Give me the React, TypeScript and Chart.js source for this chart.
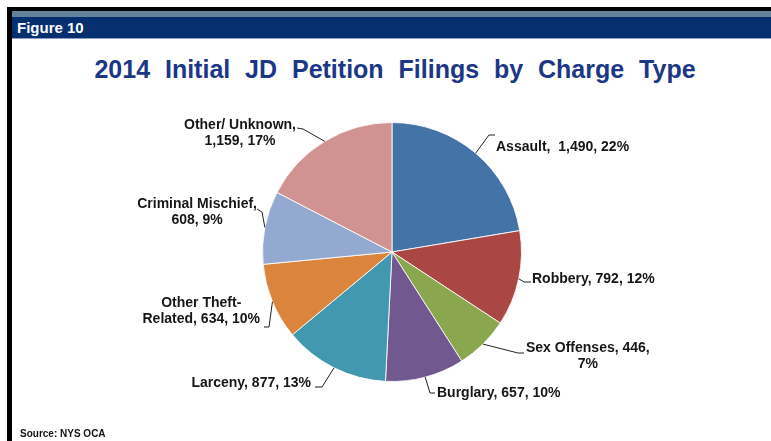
import React, { useEffect, useRef } from "react";
import { Chart, registerables } from "chart.js";

Chart.register(...registerables);

// ---- data ----
const categories = [
  "Assault",
  "Robbery",
  "Sex Offenses",
  "Burglary",
  "Larceny",
  "Other Theft-Related",
  "Criminal Mischief",
  "Other/ Unknown",
];
const filings = [1490, 792, 446, 657, 877, 634, 608, 1159];
const sliceColors = [
  "#4473A8",
  "#AA4643",
  "#8AA64F",
  "#71588F",
  "#4198AF",
  "#DB843D",
  "#93A9CF",
  "#D09392",
];
const chartTitle = "2014  Initial  JD  Petition  Filings  by  Charge  Type";
const figureLabel = "Figure 10";
const sourceNote = "Source: NYS OCA";

// ---- label layout (relative to pie centre) ----
type LabelLayout = {
  anchor: "left" | "right";
  tx: number; // text block edge x
  ty: number; // first line centre y
  elbow: [number, number];
  end: [number, number];
  brk?: [string, number]; // break after nth occurrence of char
  sep?: string;
};
const labelLayouts: LabelLayout[] = [
  { anchor: "left", tx: 104, ty: -105, elbow: [97, -117], end: [103, -117], sep: ",  " },
  { anchor: "left", tx: 140, ty: 27, elbow: [132, 30], end: [139, 30] },
  { anchor: "left", tx: 134, ty: 96, elbow: [126, 101], end: [132, 101], brk: [",", 2] },
  { anchor: "left", tx: 45, ty: 141, elbow: [38, 141], end: [43, 141] },
  { anchor: "right", tx: -81, ty: 131, elbow: [-70, 135], end: [-77, 135] },
  { anchor: "right", tx: -132, ty: 51, elbow: [-123, 75], end: [-128, 75], brk: ["-", 1] },
  { anchor: "right", tx: -135, ty: -48, elbow: [-130, -40], end: [-135, -43], brk: [",", 1] },
  { anchor: "right", tx: -96, ty: -127, elbow: [-89, -123], end: [-95, -124], brk: [",", 1] },
];
const lineHeight = 16.5;
const labelFont = 'bold 14px "Liberation Sans", Arial, sans-serif';

const total = filings.reduce((a, b) => a + b, 0);

function buildLines(i: number): string[] {
  const lay = labelLayouts[i];
  const pct = Math.round((filings[i] / total) * 100);
  const full = `${categories[i]}${lay.sep ?? ", "}${filings[i].toLocaleString("en-US")}, ${pct}%`;
  if (!lay.brk) return [full];
  const [ch, occ] = lay.brk;
  let idx = -1;
  for (let k = 0; k < occ; k++) idx = full.indexOf(ch, idx + 1);
  return [full.slice(0, idx + 1), full.slice(idx + 1).trim()];
}

const labelPlugin = {
  id: "pieLabels",
  afterDatasetsDraw(chart: any) {
    const ctx = chart.ctx as CanvasRenderingContext2D;
    const meta = chart.getDatasetMeta(0);
    ctx.save();
    ctx.font = labelFont;
    ctx.textBaseline = "middle";
    meta.data.forEach((arc: any, i: number) => {
      const p = arc.getProps(["x", "y", "startAngle", "endAngle", "outerRadius"], true);
      const lay = labelLayouts[i];
      const mid = (p.startAngle + p.endAngle) / 2;
      const sx = p.x + Math.cos(mid) * p.outerRadius;
      const sy = p.y + Math.sin(mid) * p.outerRadius;
      ctx.strokeStyle = "#222";
      ctx.lineWidth = 1;
      ctx.beginPath();
      ctx.moveTo(sx, sy);
      ctx.lineTo(p.x + lay.elbow[0], p.y + lay.elbow[1]);
      ctx.lineTo(p.x + lay.end[0], p.y + lay.end[1]);
      ctx.stroke();

      const lines = buildLines(i);
      const widths = lines.map((l) => ctx.measureText(l).width);
      const blockW = Math.max(...widths);
      const left = lay.anchor === "left" ? p.x + lay.tx : p.x + lay.tx - blockW;
      ctx.fillStyle = "#161616";
      ctx.textAlign = "center";
      lines.forEach((l, k) => {
        ctx.fillText(l, left + blockW / 2, p.y + lay.ty + k * lineHeight);
      });
    });
    ctx.restore();
  },
};

export default function App() {
  const canvasRef = useRef<HTMLCanvasElement | null>(null);

  useEffect(() => {
    if (!canvasRef.current) return;
    const chart = new Chart(canvasRef.current, {
      type: "pie",
      data: {
        labels: categories,
        datasets: [
          {
            data: filings,
            backgroundColor: sliceColors,
            borderColor: "rgba(255,255,255,0.85)",
            borderWidth: 1,
          },
        ],
      },
      options: {
        responsive: false,
        maintainAspectRatio: false,
        animation: false,
        layout: { padding: { left: 262, right: 249, top: 122, bottom: 59 } },
        plugins: {
          legend: { display: false },
          tooltip: { enabled: false },
        },
      },
      plugins: [labelPlugin],
    });
    return () => chart.destroy();
  }, []);

  const abs = (s: React.CSSProperties): React.CSSProperties => ({ position: "absolute", ...s });

  return (
    <div
      style={{
        position: "absolute",
        left: 0,
        top: 0,
        width: 771,
        height: 441,
        background: "#fff",
        overflow: "hidden",
        fontFamily: '"Liberation Sans", Arial, sans-serif',
      }}
    >
      <div style={abs({ left: 7, top: 7, width: 764, height: 4, background: "#000" })} />
      <div style={abs({ left: 7, top: 7, width: 5, height: 434, background: "#000" })} />
      <div style={abs({ left: 12, top: 11, width: 759, height: 6, background: "#62819B" })} />
      <div style={abs({ left: 12, top: 17, width: 759, height: 21, background: "#052F6F" })} />
      <div style={abs({ left: 12, top: 38, width: 759, height: 1, background: "#8CA0C4" })} />
      <div
        style={abs({
          left: 17,
          top: 17,
          height: 21,
          lineHeight: "21px",
          color: "#fff",
          fontWeight: "bold",
          fontSize: 15,
        })}
      >
        {figureLabel}
      </div>
      <div
        style={abs({
          left: 0,
          width: 790,
          top: 54,
          textAlign: "center",
          color: "#1B3786",
          fontWeight: "bold",
          fontSize: 25,
          lineHeight: "31px",
          whiteSpace: "pre",
          wordSpacing: 0.5,
        })}
      >
        {chartTitle}
      </div>
      <canvas ref={canvasRef} width={771} height={441} style={abs({ left: 0, top: 0 })} />
      <div
        style={abs({
          left: 20,
          top: 428,
          color: "#111",
          fontWeight: "bold",
          fontSize: 10,
          lineHeight: "12px",
        })}
      >
        {sourceNote}
      </div>
    </div>
  );
}
